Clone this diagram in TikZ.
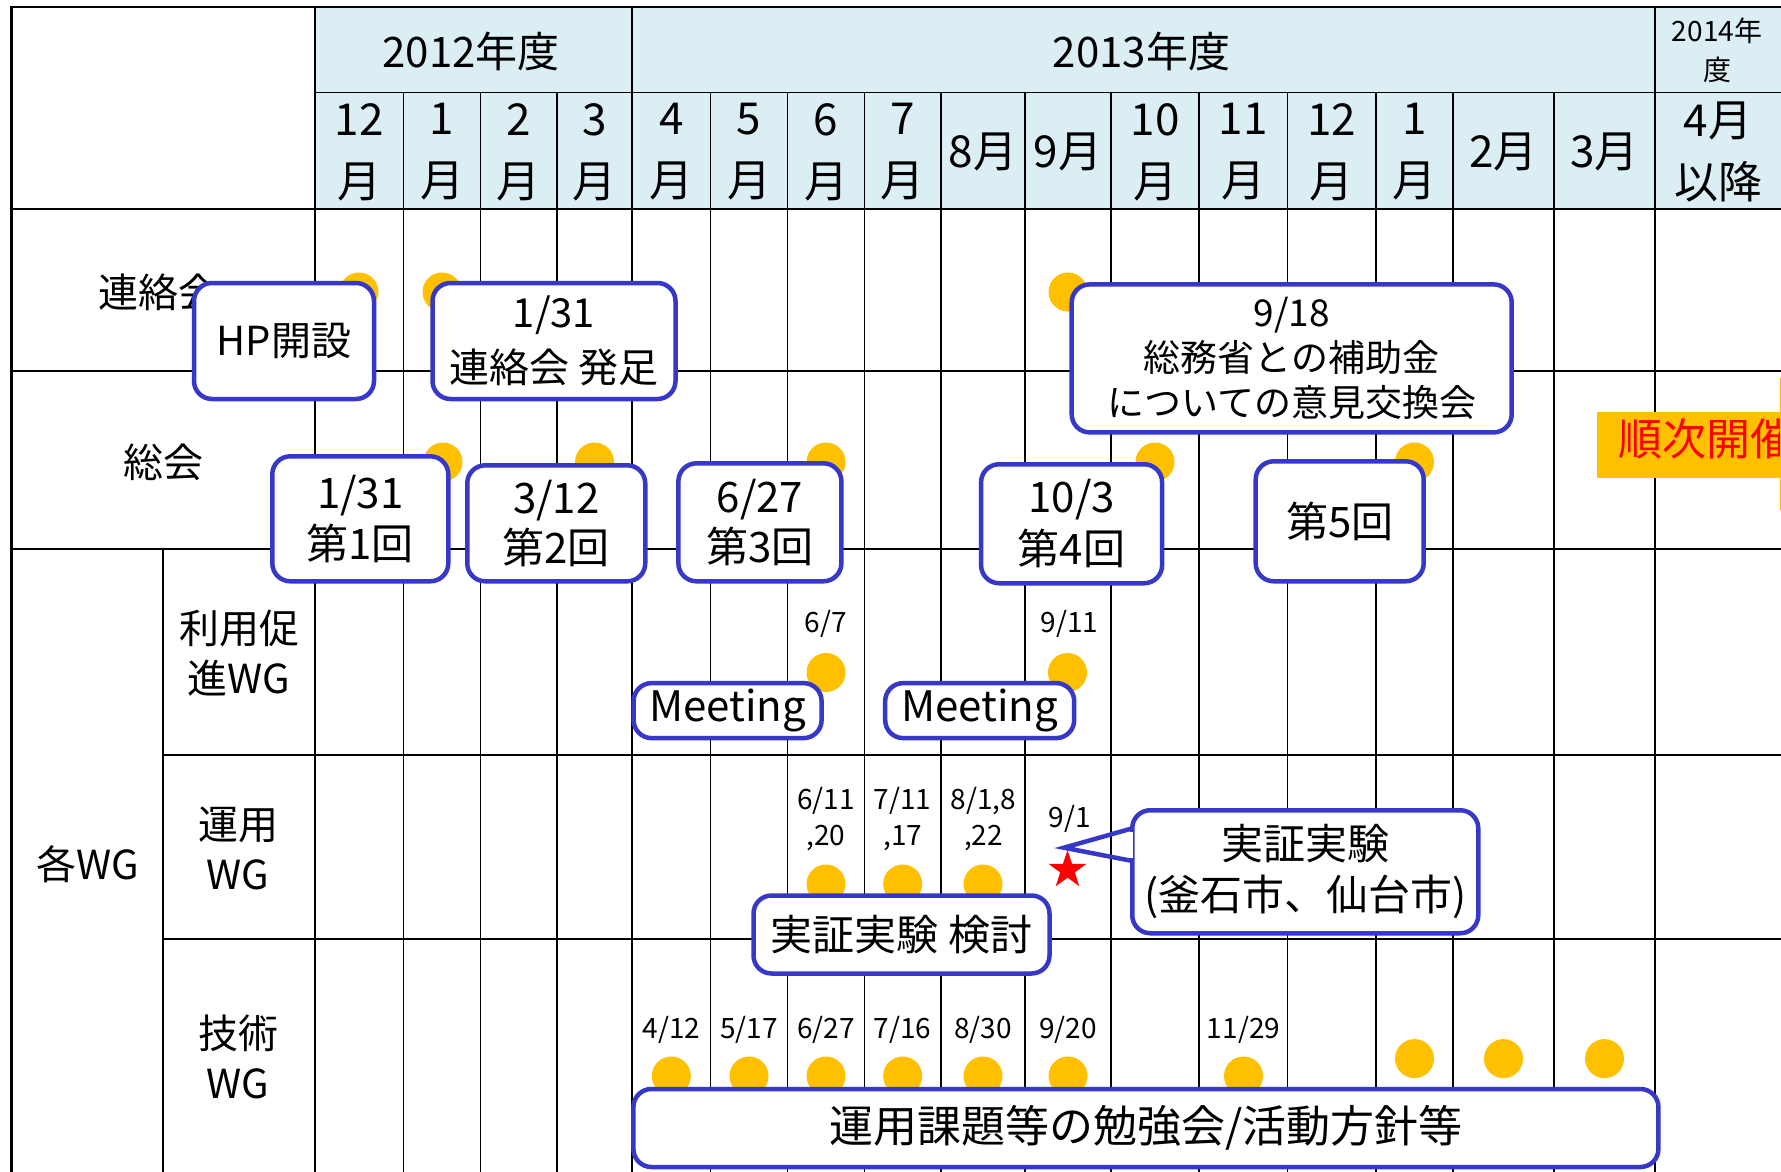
\documentclass[tikz,border=0pt]{standalone}
\usepackage{fontspec}
\setmainfont{Noto Sans CJK JP}
\usetikzlibrary{shapes.geometric}
\definecolor{hdr}{RGB}{218,238,243}
\definecolor{boxblue}{RGB}{55,55,200}
\definecolor{dotc}{RGB}{255,192,0}
\newcommand{\myfs}[2]{\fontsize{#1}{#2}\selectfont}
\begin{document}
\begin{tikzpicture}[x=1pt,y=-1pt,
  thickline/.style={line width=2.6pt},
  thinline/.style={line width=1.3pt},
  evbox/.style={draw=boxblue, line width=4.5pt, fill=white, rounded corners=18pt, align=center, inner sep=0pt},
  dot/.style={circle, fill=dotc, minimum size=39pt, inner sep=0pt},
  mon/.style={align=center, font=\myfs{44}{62}},
  rowlbl/.style={align=center, font=\myfs{40}{50}},
  datelbl/.style={align=center, font=\myfs{28}{36}},
  yearlbl/.style={font=\myfs{42}{50}}
]
\useasboundingbox (0,0) rectangle (1781,1172);
\clip (0,0) rectangle (1781,1172);
\fill[white] (0,0) rectangle (1781,1172);
\fill[hdr] (315,7) rectangle (1781,209);
% month column lines
\foreach \x in {403.5,480.5,557,710.6,787.5,864.5,941,1025,1111,1199,1287.4,1376,1453,1554}
  \draw[thinline] (\x,92.6) -- (\x,1172);
\foreach \x in {632,1655}
  \draw[line width=1.6pt] (\x,7) -- (\x,1172);
\draw[line width=1.6pt] (315,92.6) -- (1781,92.6);
% thick lines
\draw[thickline] (11.5,7) -- (1781,7);
\draw[thickline] (11.5,6) -- (11.5,1172);
\draw[thickline] (315,6) -- (315,1172);
\draw[thickline] (163,549) -- (163,1172);
\foreach \y in {209,371,549}
  \draw[thickline] (11.5,\y) -- (1781,\y);
\foreach \y in {755,939}
  \draw[thickline] (163,\y) -- (1781,\y);
% header text
\node[yearlbl] (y2012) at (471,51) {2012年度};
\node[yearlbl] (y2013) at (1141.5,51) {2013年度};
\node[font=\myfs{28}{36}] (y2014a) at (1717,31) {2014年};
\node[font=\myfs{28}{36}] (y2014b) at (1717,70) {度};
\node[mon] (m1) at (359,152) {12\\月};
\node[mon] (m2) at (442,152) {1\\月};
\node[mon] (m3) at (518.7,152) {2\\月};
\node[mon] (m4) at (594.5,152) {3\\月};
\node[mon] (m5) at (671.3,152) {4\\月};
\node[mon] (m6) at (749,152) {5\\月};
\node[mon] (m7) at (826,152) {6\\月};
\node[mon] (m8) at (902.7,152) {7\\月};
\node[mon] (m9) at (983,152) {8月};
\node[mon] (m10) at (1068,152) {9月};
\node[mon] (m11) at (1155,152) {10\\月};
\node[mon] (m12) at (1243,152) {11\\月};
\node[mon] (m13) at (1331.7,152) {12\\月};
\node[mon] (m14) at (1414.5,152) {1\\月};
\node[mon] (m15) at (1503.5,152) {2月};
\node[mon] (m16) at (1604.5,152) {3月};
\node[mon] (m17) at (1718,152) {4月\\以降};
% row labels
\node[rowlbl] (rl1) at (158,292) {連絡会};
\node[rowlbl] (rl2) at (163,462) {総会};
\node[rowlbl] (rl3) at (87.6,864) {各WG};
\node[rowlbl] (rl4) at (239,653) {利用促\\進WG};
\node[rowlbl] (rl5) at (238,848) {運用\\WG};
\node[rowlbl] (rl6) at (238,1057) {技術\\WG};
% dots
\node[dot] (d1) at (359,292) {};
\node[dot] (d2) at (442,292) {};
\node[dot] (d3) at (1068,292) {};
\node[dot] (d4) at (443,462) {};
\node[dot] (d5) at (594.5,462) {};
\node[dot] (d6) at (826,462) {};
\node[dot] (d7) at (1155,462) {};
\node[dot] (d8) at (1414.5,462) {};
\node[dot] (d9) at (826,672.5) {};
\node[dot] (d10) at (1067.5,672.5) {};
\node[dot] (d11) at (826,884) {};
\node[dot] (d12) at (902.7,884) {};
\node[dot] (d13) at (983,884) {};
\node[dot] (d14) at (671.3,1076) {};
\node[dot] (d15) at (749,1076) {};
\node[dot] (d16) at (826,1076) {};
\node[dot] (d17) at (902.7,1076) {};
\node[dot] (d18) at (983,1076) {};
\node[dot] (d19) at (1068,1076) {};
\node[dot] (d20) at (1243.5,1076) {};
\node[dot] (d21) at (1414.5,1058.6) {};
\node[dot] (d22) at (1503.5,1058.6) {};
\node[dot] (d23) at (1604.5,1058.6) {};
% date labels
\node[datelbl] (l1) at (826,624) {6/7};
\node[datelbl] (l2) at (1069.6,624) {9/11};
\node[datelbl] (l3) at (826,819) {6/11\\,20};
\node[datelbl] (l4) at (902.7,819) {7/11\\,17};
\node[datelbl] (l5) at (983.6,819) {8/1,8\\,22};
\node[datelbl] (l6) at (1070,818.5) {9/1};
\node[datelbl] (t1) at (671.3,1030) {4/12};
\node[datelbl] (t2) at (749,1030) {5/17};
\node[datelbl] (t3) at (826,1030) {6/27};
\node[datelbl] (t4) at (902.7,1030) {7/16};
\node[datelbl] (t5) at (983,1030) {8/30};
\node[datelbl] (t6) at (1068,1030) {9/20};
\node[datelbl] (t7) at (1243.5,1030) {11/29};
% star
\node[star, star points=5, star point ratio=2.6, fill=red, minimum size=40pt, inner sep=0pt] (star) at (1067.5,870) {};
% event boxes
\node[evbox, minimum width=180pt, minimum height=116pt, font=\myfs{40}{55}] (hp) at (284,341) {HP開設};
\node[evbox, minimum width=243pt, minimum height=116pt, font=\myfs{40}{55}] (rk) at (554,341) {1/31\\連絡会 発足};
\node[evbox, minimum width=176pt, minimum height=125pt, font=\myfs{42}{51.5}] (s1) at (360.3,518.8) {1/31\\第1回};
\node[evbox, minimum width=178pt, minimum height=116pt, font=\myfs{42}{50}] (s2) at (556.25,523.3) {3/12\\第2回};
\node[evbox, minimum width=163pt, minimum height=118pt, font=\myfs{42}{50}] (s3) at (759.9,522.3) {6/27\\第3回};
\node[evbox, minimum width=440pt, minimum height=148pt, font=\myfs{37}{45}] (mic) at (1291.7,358.4) {9/18\\総務省との補助金\\についての意見交換会};
\node[evbox, minimum width=181pt, minimum height=119pt, font=\myfs{42}{51.5}] (s4) at (1071.6,523.75) {10/3\\第4回};
\node[evbox, minimum width=168pt, minimum height=120pt, font=\myfs{42}{50}] (s5) at (1339.7,521.3) {第5回};
\node[evbox, minimum width=188pt, minimum height=55pt, font=\myfs{42}{50}] (mt1) at (727.6,710.6) {Meeting};
\node[evbox, minimum width=189pt, minimum height=55pt, font=\myfs{42}{50}] (mt2) at (979.7,710.6) {Meeting};
\node[evbox, minimum width=296pt, minimum height=78pt, font=\myfs{42}{50}] (kt) at (901.5,934.5) {実証実験 検討};
\node[evbox, minimum width=1025pt, minimum height=78pt, font=\myfs{44}{50}] (bk) at (1145.9,1128) {運用課題等の勉強会/活動方針等};
% callout
\node[evbox, minimum width=346pt, minimum height=123pt, font=\myfs{42}{51}] (cb) at (1305.25,871.75) {実証実験\\(釜石市、仙台市)};
\coordinate (tip) at (1064,847.7);
\coordinate (p1) at (1130,829);
\coordinate (p2) at (1130,860.5);
\fill[white] (1127,831.5) rectangle (1133,858);
\draw[boxblue, line width=4.5pt, line cap=round, line join=miter] (p1) -- (tip) -- (p2);
% junji
\node[fill=dotc, anchor=west, inner sep=0pt, minimum width=200pt, minimum height=66pt] (junjibox) at (1597,445.4) {};
\node[text=red, font=\myfs{44}{50}, anchor=west, inner sep=0pt] (junji) at (1618,439) {順次開催};
\draw[dotc, line width=1.5pt] (1780.5,378) -- (1780.5,510);
\end{tikzpicture}
\end{document}
